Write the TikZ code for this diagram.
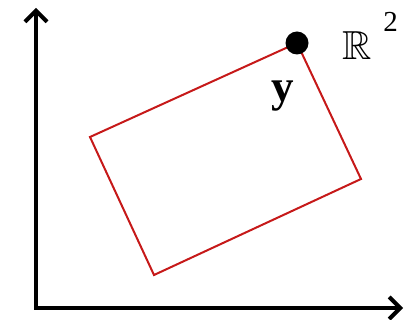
\documentclass[tikz,border=0pt]{standalone}
\usepackage{amssymb}
\usepackage{fontspec}
\setmainfont{Liberation Serif}
\usepackage{tikz}
\usetikzlibrary{arrows.meta,positioning}

\begin{document}
\begin{tikzpicture}[
  x=1pt, y=-1pt,
  axis/.style={line width=4pt, {Straight Barb[length=11pt,width=22pt,line width=4pt]}-{Straight Barb[length=11pt,width=22pt,line width=4pt]}},
  region/.style={draw=red!75!black!90, line width=2pt, line join=miter},
  pt/.style={circle, fill=black, inner sep=0pt, minimum size=23pt},
  lbl/.style={inner sep=0pt, anchor=base west},
]
\useasboundingbox (0,0) rectangle (404,320);

% axes
\coordinate (ytip) at (36,8);
\coordinate (xtip) at (403,308);
\draw[axis] (ytip) |- (xtip);

% rotated rectangle
\coordinate (c1) at (297,43);
\coordinate (c2) at (361,179);
\coordinate (c3) at (154,275);
\coordinate (c4) at (90,137);
\draw[region] (c1) -- (c2) -- (c3) -- (c4) -- cycle;

% point and labels
\node[pt] (ypt) at (c1) {};
\node[lbl, font=\fontsize{45}{45}\selectfont\bfseries] (ylab) at (271,102) {y};
\node[lbl, font=\fontsize{24.88}{26}\selectfont] (space) at (342,60)
  {\scalebox{1.63}{$\mathbb{R}$}\hspace{12pt}\raisebox{28pt}{\fontsize{29}{29}\selectfont 2}};

\end{tikzpicture}
\end{document}
